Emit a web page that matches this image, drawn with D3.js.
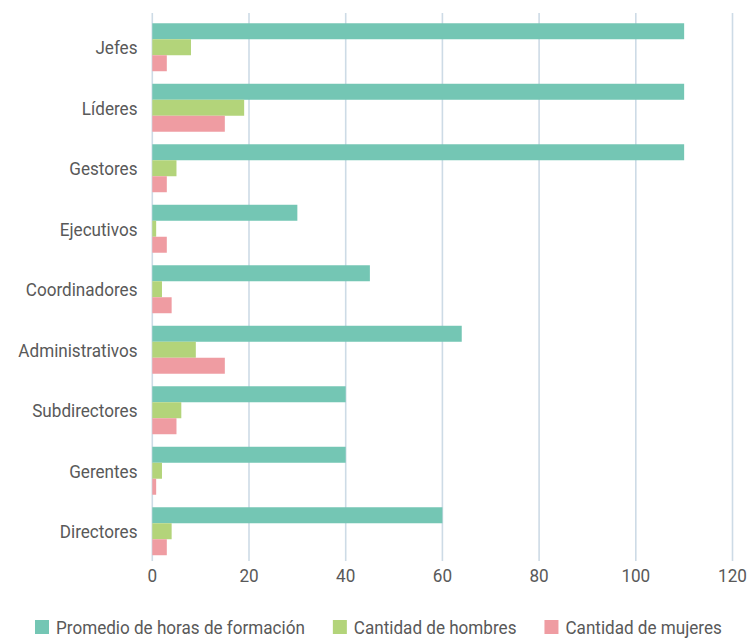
<!DOCTYPE html>
<html>
<head>
<meta charset="utf-8">
<script src="https://cdn.jsdelivr.net/npm/d3@7"></script>
<style>
  body { margin: 0; background: #fff; }
  text { font-family: Roboto, "Liberation Sans", sans-serif; fill: #595959; font-size: 19px; }
</style>
</head>
<body>
<div id="chart"></div>
<script>
// categories top to bottom
const categories = ["Jefes", "Líderes", "Gestores", "Ejecutivos", "Coordinadores",
    "Administrativos", "Subdirectores", "Gerentes", "Directores"];
const seriesNames = ["Promedio de horas de formación", "Cantidad de hombres", "Cantidad de mujeres"];
const promedioHoras = [110, 110, 110, 30, 45, 64, 40, 40, 60];
const cantidadHombres = [8, 19, 5, 0.8, 2, 9, 6, 2, 4];
const cantidadMujeres = [3, 15, 3, 3, 4, 15, 5, 0.8, 3];
const xTicks = [0, 20, 40, 60, 80, 100, 120];
const colors = ["#74c6b4", "#b3d47a", "#ef9ca2"];

// the original font is a condensed one, so squeeze the text a bit
const squeeze = 0.9;

const seriesValues = [promedioHoras, cantidadHombres, cantidadMujeres];
const rows = categories.map(function(cat, i) {
    return { cat: cat, values: seriesValues.map(function(s, k) { return { key: seriesNames[k], value: s[i], k: k }; }) };
});

const svg = d3.select("#chart")
    .append("svg")
        .attr("width", 747)
        .attr("height", 638);

const x = d3.scaleLinear()
    .domain([0, 120])
    .range([152.3, 732.5]);

const y = d3.scaleBand()
    .domain(categories)
    .range([17, 561.5])
    .paddingInner(0.207)
    .paddingOuter(0.1035);

const ySub = d3.scaleBand()
    .domain(seriesNames)
    .range([0, y.bandwidth()]);

// vertical gridlines
svg.append("g")
    .selectAll("line")
    .data(xTicks)
    .enter()
    .append("line")
        .attr("x1", d => x(d))
        .attr("x2", d => x(d))
        .attr("y1", 13)
        .attr("y2", 561)
        .attr("stroke", "#cddbe6")
        .attr("stroke-width", 1.6);

// bars
const groups = svg.append("g")
    .selectAll("g")
    .data(rows)
    .enter()
    .append("g")
        .attr("transform", d => "translate(0," + y(d.cat) + ")");

groups.selectAll("rect")
    .data(d => d.values)
    .enter()
    .append("rect")
        .attr("x", x(0))
        .attr("y", d => ySub(d.key))
        .attr("width", d => x(d.value) - x(0))
        .attr("height", ySub.bandwidth())
        .attr("fill", d => colors[d.k]);

// category labels
svg.append("g")
    .selectAll("text")
    .data(categories)
    .enter()
    .append("text")
        .attr("transform", d => "translate(137.5," + (y(d) + y.bandwidth() / 2) + ") scale(" + squeeze + ",1)")
        .attr("dy", "0.36em")
        .attr("text-anchor", "end")
        .text(d => d);

// x tick labels
svg.append("g")
    .selectAll("text")
    .data(xTicks)
    .enter()
    .append("text")
        .attr("transform", d => "translate(" + x(d) + ",582) scale(" + squeeze + ",1)")
        .attr("text-anchor", "middle")
        .text(d => d);

// legend
const legend = svg.append("g");
let lx = 35;
seriesNames.forEach(function(name, k) {
    legend.append("rect")
        .attr("x", lx)
        .attr("y", 620)
        .attr("width", 14)
        .attr("height", 14)
        .attr("fill", colors[k]);
    const t = legend.append("text")
        .attr("transform", "translate(" + (lx + 21) + ",634) scale(" + squeeze + ",1)")
        .text(name);
    lx = lx + 21 + t.node().getComputedTextLength() * squeeze + 28;
});
</script>
</body>
</html>
